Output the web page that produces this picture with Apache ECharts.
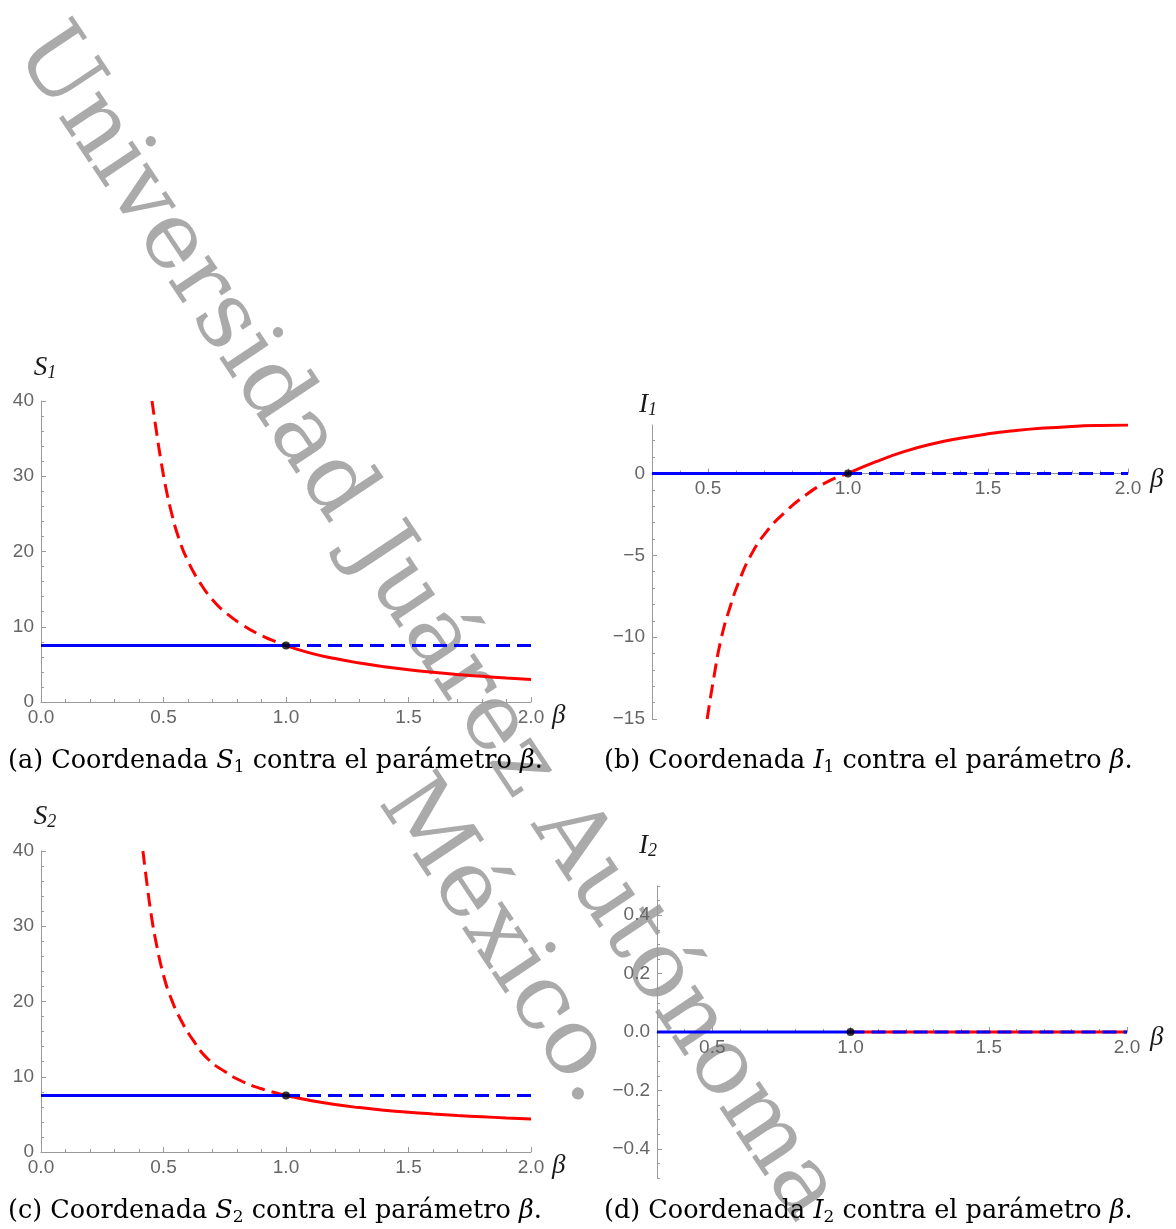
<!DOCTYPE html>
<html>
<head>
<meta charset="utf-8">
<script src="https://cdn.jsdelivr.net/npm/echarts@6/dist/echarts.min.js"></script>
<style>
html,body{margin:0;padding:0;background:#ffffff;}
#chart{width:1176px;height:1229px;}
</style>
</head>
<body>
<div id="chart"></div>
<script>
// ---------------- DATA ----------------
// Panel (a): S1 vs beta
const betaS1Unstable = [0.453, 0.47, 0.49, 0.51, 0.53, 0.56, 0.60, 0.65, 0.70, 0.76, 0.82, 0.88, 0.94, 1.0];
const s1Unstable     = [40, 36.2, 32.0, 28.4, 25.5, 22.0, 18.7, 15.8, 13.6, 11.7, 10.3, 9.15, 8.25, 7.5];
const betaS1Stable   = [1.0, 1.1, 1.2, 1.3, 1.4, 1.5, 1.6, 1.7, 1.8, 1.9, 2.0];
const s1Stable       = [7.5, 6.5, 5.77, 5.17, 4.69, 4.29, 3.95, 3.66, 3.41, 3.19, 3.0];
const betaS1DfeStable   = [0, 1.0];
const s1DfeStable       = [7.5, 7.5];
const betaS1DfeUnstable = [1.0, 2.0];
const s1DfeUnstable     = [7.5, 7.5];

// Panel (b): I1 vs beta
const betaI1Unstable = [0.497, 0.52, 0.547, 0.58, 0.613, 0.653, 0.707, 0.773, 0.853, 0.933, 1.0];
const i1Unstable     = [-15, -12.55, -10.1, -8.1, -6.5, -5.0, -3.6, -2.4, -1.27, -0.45, 0];
const betaI1Stable   = [1.0, 1.1, 1.2, 1.3, 1.4, 1.5, 1.6, 1.7, 1.8, 1.9, 2.0];
const i1Stable       = [0, 0.72, 1.33, 1.8, 2.15, 2.42, 2.62, 2.77, 2.87, 2.93, 2.96];
const betaI1DfeStable   = [0.3, 1.0];
const i1DfeStable       = [0, 0];
const betaI1DfeUnstable = [1.0, 2.0];
const i1DfeUnstable     = [0, 0];

// Panel (c): S2 vs beta
const betaS2Unstable = [0.416, 0.43, 0.45, 0.47, 0.50, 0.53, 0.57, 0.62, 0.68, 0.75, 0.82, 0.90, 1.0];
const s2Unstable     = [40, 36.3, 31.5, 27.8, 23.5, 20.5, 17.6, 14.9, 12.4, 10.7, 9.4, 8.4, 7.5];
const betaS2Stable   = [1.0, 1.1, 1.2, 1.3, 1.4, 1.5, 1.6, 1.7, 1.8, 1.9, 2.0];
const s2Stable       = [7.5, 6.85, 6.31, 5.9, 5.56, 5.28, 5.05, 4.85, 4.68, 4.53, 4.4];
const betaS2DfeStable   = [0, 1.0];
const s2DfeStable       = [7.5, 7.5];
const betaS2DfeUnstable = [1.0, 2.0];
const s2DfeUnstable     = [7.5, 7.5];

// Panel (d): I2 vs beta
const betaI2Stable   = [1.0, 2.0];
const i2Stable       = [0, 0];
const betaI2DfeStable   = [0.3, 1.0];
const i2DfeStable       = [0, 0];
const betaI2DfeUnstable = [1.0, 2.0];
const i2DfeUnstable     = [0, 0];

// Bifurcation point
const bifBeta = [1.0];
const bifS1 = [7.5];
const bifI1 = [0];
const bifS2 = [7.5];
const bifI2 = [0];

// Tick labels
const xMajorAC = [0, 0.5, 1, 1.5, 2];
const xMajorBD = [0.5, 1, 1.5, 2];
const yMajorS  = [0, 10, 20, 30, 40];
const yMajorI1 = [-15, -10, -5, 0];
const yMajorI2 = [-0.4, -0.2, 0, 0.2, 0.4];

// Captions / watermark
const captionA = '{r|(a) Coordenada }{i|S}{s|1}{r| contra el parámetro }{i|β}{r|.}';
const captionB = '{r|(b) Coordenada }{i|I}{s|1}{r| contra el parámetro }{i|β}{r|.}';
const captionC = '{r|(c) Coordenada }{i|S}{s|2}{r| contra el parámetro }{i|β}{r|.}';
const captionD = '{r|(d) Coordenada }{i|I}{s|2}{r| contra el parámetro }{i|β}{r|.}';
const watermarkLine1 = 'Universidad Juárez Autónoma';
const watermarkLine2 = 'México.';

// ---------------- STYLE ----------------
const RED = '#ff0000', BLUE = '#0000ff';
const AXIS = '#9a9a9a', LABEL = '#666666';
const SANS = '"Liberation Sans", Arial, sans-serif';
const SERIF = '"Liberation Serif", serif';
const CAPFONT = '"DejaVu Serif", serif';
const DASH = [14, 7];

function pairs(xs, ys) { return xs.map((x, k) => [x, ys[k]]); }
function minorTicks(a, b, step, majors) {
  const out = [];
  const n = Math.round((b - a) / step);
  for (let k = 0; k <= n; k++) {
    const v = +(a + k * step).toFixed(6);
    if (!majors.some(m => Math.abs(m - v) < 1e-9)) out.push(v);
  }
  return out;
}
const fmt = d => v => Number(v).toFixed(d).replace('-', '\u2212');

const yNameRich = {
  i: {fontFamily: SERIF, fontStyle: 'italic', fontWeight: 'normal', fontSize: 27, color: '#1a1a1a', lineHeight: 28},
  s: {fontFamily: SERIF, fontStyle: 'italic', fontWeight: 'normal', fontSize: 18, color: '#1a1a1a', verticalAlign: 'bottom', lineHeight: 12}
};
function xNameRich(shift) {
  return {b: {fontFamily: SERIF, fontStyle: 'italic', fontWeight: 'normal', fontSize: 27, color: '#1a1a1a',
              lineHeight: 28, padding: [2 * shift, 0, 0, 0]}};
}

const panels = [
  { grid: {left: 41, top: 401, width: 490, height: 301},
    xMin: 0, xMax: 2, yMin: 0, yMax: 40,
    xMajor: xMajorAC, xMinor: minorTicks(0, 2, 0.1, xMajorAC),
    yMajor: yMajorS, yMinor: minorTicks(0, 40, 2, yMajorS), yDec: 0,
    yName: '{i|S}{s|1}', yNamePad: [0, 0, 0, 8], yNameGap: 19,
    xNameShift: 14, xNameGap: 21,
    lines: [
      {x: betaS1Unstable, y: s1Unstable, color: RED, dashed: true, smooth: true},
      {x: betaS1Stable, y: s1Stable, color: RED, dashed: false, smooth: true},
      {x: betaS1DfeStable, y: s1DfeStable, color: BLUE, dashed: false},
      {x: betaS1DfeUnstable, y: s1DfeUnstable, color: BLUE, dashed: true}
    ],
    dot: pairs(bifBeta, bifS1) },
  { grid: {left: 652, top: 425, width: 476, height: 294},
    xMin: 0.3, xMax: 2, yMin: -15, yMax: 2.96,
    xMajor: xMajorBD, xMinor: minorTicks(0.4, 2, 0.1, xMajorBD),
    yMajor: yMajorI1, yMinor: minorTicks(-15, 2, 1, yMajorI1), yDec: 0,
    yName: '{i|I}{s|1}', yNamePad: [0, 8, 0, 0], yNameGap: 6,
    xNameShift: 6, xNameGap: 22,
    lines: [
      {x: betaI1Unstable, y: i1Unstable, color: RED, dashed: true, smooth: true},
      {x: betaI1Stable, y: i1Stable, color: RED, dashed: false, smooth: true},
      {x: betaI1DfeStable, y: i1DfeStable, color: BLUE, dashed: false},
      {x: betaI1DfeUnstable, y: i1DfeUnstable, color: BLUE, dashed: true}
    ],
    dot: pairs(bifBeta, bifI1) },
  { grid: {left: 41, top: 851, width: 490, height: 301},
    xMin: 0, xMax: 2, yMin: 0, yMax: 40,
    xMajor: xMajorAC, xMinor: minorTicks(0, 2, 0.1, xMajorAC),
    yMajor: yMajorS, yMinor: minorTicks(0, 40, 2, yMajorS), yDec: 0,
    yName: '{i|S}{s|2}', yNamePad: [0, 0, 0, 8], yNameGap: 20,
    xNameShift: 14, xNameGap: 21,
    lines: [
      {x: betaS2Unstable, y: s2Unstable, color: RED, dashed: true, smooth: true},
      {x: betaS2Stable, y: s2Stable, color: RED, dashed: false, smooth: true},
      {x: betaS2DfeStable, y: s2DfeStable, color: BLUE, dashed: false},
      {x: betaS2DfeUnstable, y: s2DfeUnstable, color: BLUE, dashed: true}
    ],
    dot: pairs(bifBeta, bifS2) },
  { grid: {left: 657, top: 886, width: 470, height: 292},
    xMin: 0.3, xMax: 2, yMin: -0.5, yMax: 0.5,
    xMajor: xMajorBD, xMinor: minorTicks(0.4, 2, 0.1, xMajorBD),
    yMajor: yMajorI2, yMinor: minorTicks(-0.5, 0.5, 0.05, yMajorI2), yDec: 1,
    yName: '{i|I}{s|2}', yNamePad: [0, 18, 0, 0], yNameGap: 26,
    xNameShift: 6, xNameGap: 23,
    lines: [
      {x: betaI2Stable, y: i2Stable, color: RED, dashed: false},
      {x: betaI2DfeStable, y: i2DfeStable, color: BLUE, dashed: false},
      {x: betaI2DfeUnstable, y: i2DfeUnstable, color: BLUE, dashed: true}
    ],
    dot: pairs(bifBeta, bifI2) }
];

const grids = [], xAxes = [], yAxes = [], series = [];
panels.forEach((p, i) => {
  grids.push(Object.assign({outerBoundsMode: 'none', containLabel: false}, p.grid));
  // place the beta axis on the zero line of the value axis
  const zeroOffset = -((0 - p.yMin) / (p.yMax - p.yMin)) * p.grid.height;
  const xc = {type: 'value', gridIndex: i, min: p.xMin, max: p.xMax, position: 'bottom', offset: zeroOffset,
              splitLine: {show: false}, silent: true};
  xAxes.push(Object.assign({}, xc, {
    axisLine: {show: true, onZero: false, lineStyle: {color: AXIS, width: 1}},
    axisTick: {show: true, inside: true, length: 5, customValues: p.xMajor, lineStyle: {color: AXIS, width: 1}},
    axisLabel: {show: true, customValues: p.xMajor, formatter: fmt(1), color: LABEL, fontSize: 19, fontFamily: SANS, margin: 6},
    name: '{b|β}', nameLocation: 'end', nameGap: p.xNameGap,
    nameTextStyle: {align: 'left', verticalAlign: 'middle', rich: xNameRich(p.xNameShift)}
  }));
  xAxes.push(Object.assign({}, xc, {
    axisLine: {show: false, onZero: false},
    axisTick: {show: true, inside: true, length: 3, customValues: p.xMinor, lineStyle: {color: AXIS, width: 1}},
    axisLabel: {show: false}
  }));
  const yc = {type: 'value', gridIndex: i, min: p.yMin, max: p.yMax, position: 'left', offset: 0,
              splitLine: {show: false}, silent: true};
  yAxes.push(Object.assign({}, yc, {
    axisLine: {show: true, onZero: false, lineStyle: {color: AXIS, width: 1}},
    axisTick: {show: true, inside: true, length: 5, customValues: p.yMajor, lineStyle: {color: AXIS, width: 1}},
    axisLabel: {show: true, customValues: p.yMajor, formatter: fmt(p.yDec), color: LABEL, fontSize: 19, fontFamily: SANS, margin: 7},
    name: p.yName, nameLocation: 'end', nameGap: p.yNameGap,
    nameTextStyle: {align: 'center', padding: p.yNamePad, rich: yNameRich}
  }));
  yAxes.push(Object.assign({}, yc, {
    axisLine: {show: false, onZero: false},
    axisTick: {show: true, inside: true, length: 3, customValues: p.yMinor, lineStyle: {color: AXIS, width: 1}},
    axisLabel: {show: false}
  }));
  p.lines.forEach((l, k) => {
    series.push({
      type: 'line', xAxisIndex: 2 * i, yAxisIndex: 2 * i,
      data: pairs(l.x, l.y), symbol: 'none', showSymbol: false,
      smooth: l.smooth ? 0.5 : false,
      lineStyle: {color: l.color, width: 3, type: l.dashed ? DASH : 'solid'},
      z: 3 + k, silent: true, clip: true
    });
  });
  series.push({
    type: 'scatter', xAxisIndex: 2 * i, yAxisIndex: 2 * i, data: p.dot,
    symbol: 'circle', symbolSize: 8, itemStyle: {color: '#000000'}, z: 20, silent: true
  });
});

const capRich = {
  r: {fontFamily: CAPFONT, fontWeight: 'normal', fontSize: 25.5, color: '#000000', lineHeight: 30},
  i: {fontFamily: CAPFONT, fontWeight: 'normal', fontStyle: 'italic', fontSize: 25.5, color: '#000000', lineHeight: 30},
  s: {fontFamily: CAPFONT, fontWeight: 'normal', fontSize: 17, color: '#000000', verticalAlign: 'bottom', lineHeight: 15}
};
function caption(text, left, top) {
  return {text: text, left: left, top: top, padding: 0, textStyle: {fontWeight: 'normal', rich: capRich}};
}

// watermark (rotated serif text, drawn below the plots)
const WM_SIZE = 93;
const WM_ROT = -0.9826;
const wmRich = {w: {fontFamily: CAPFONT, fontSize: WM_SIZE, fontWeight: 'normal', color: '#aaaaaa', lineHeight: WM_SIZE + 6}};
const wmStyle = (txt) => ({legacy: false, text: '{w|' + txt + '}', rich: wmRich,
  fontFamily: CAPFONT, fontSize: WM_SIZE, fill: '#aaaaaa', align: 'left', verticalAlign: 'middle'});

const option = {
  animation: false,
  backgroundColor: '#ffffff',
  title: [
    caption(captionA, 8, 746),
    caption(captionB, 604, 746),
    caption(captionC, 8, 1196),
    caption(captionD, 604, 1196)
  ],
  graphic: [
    {type: 'text', x: 33.6, y: 36.1, rotation: WM_ROT, z: -10, silent: true, style: wmStyle(watermarkLine1)},
    {type: 'text', x: 397.7, y: 788.4, rotation: WM_ROT, z: -10, silent: true, style: wmStyle(watermarkLine2)}
  ],
  grid: grids,
  xAxis: xAxes,
  yAxis: yAxes,
  series: series
};

const chart = echarts.init(document.getElementById('chart'), null, {renderer: 'canvas'});
chart.setOption(option);
</script>
</body>
</html>
